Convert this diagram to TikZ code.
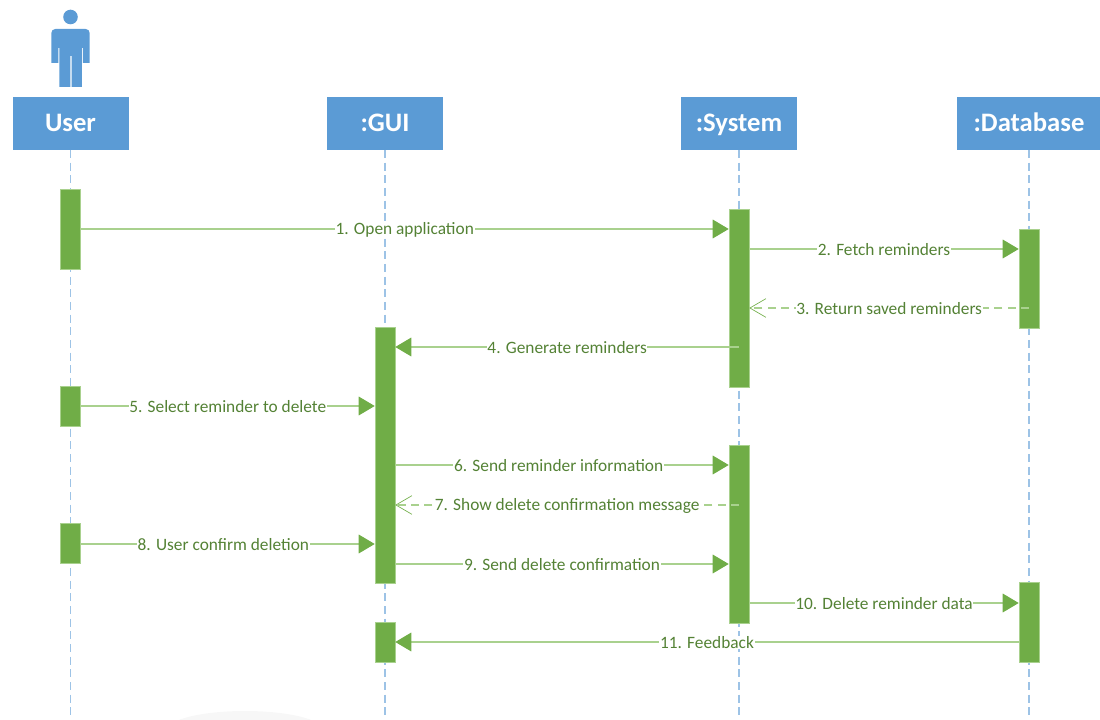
\documentclass[tikz,border=0pt]{standalone}
\usepackage{fontspec}
\setmainfont{Carlito}
\usetikzlibrary{arrows.meta}
\definecolor{headblue}{HTML}{5B9BD5}
\definecolor{lifeblue}{HTML}{9DC3E6}
\definecolor{barRgreen}{HTML}{70AD47}
\definecolor{msgline}{HTML}{A9D18E}
\definecolor{msgtext}{HTML}{548235}
\tikzset{
	header/.style={fill=headblue,draw=white,line width=0.4pt,text=white,font=\fontsize{20}{20}\selectfont\bfseries,minimum height=40.5pt,inner sep=0pt,text height=16pt,text depth=2.5pt},
	bar/.style={fill=barRgreen,draw=msgline,line width=0.4pt,minimum width=15pt,inner sep=0pt},
	lifeline/.style={lifeblue,line width=0.9pt,dash pattern=on 6pt off 3.5pt},
	msg/.style={msgline,line width=0.9pt,-{Triangle[length=12pt,width=14pt,fill=barRgreen,color=barRgreen]}},
	reply/.style={msgline,line width=0.9pt,dash pattern=on 6pt off 4pt,-{Straight Barb[length=12pt,width=14pt,color=barRgreen,line width=0.5pt]}},
	msglabel/.style={fill=white,text=msgtext,font=\fontsize{13}{13}\selectfont,inner xsep=0.5pt,inner ysep=0.5pt,yshift=-0.4pt}
}
\begin{document}
\begin{tikzpicture}[x=0.75pt,y=-0.75pt]
	\useasboundingbox (0,0) rectangle (1100,720);
	\fill[black!3] (245,730) ellipse [x radius=78,y radius=19];
	% headers
	\node[header,minimum width=87.75pt] (user) at (70.5,123) {User};
	\node[header,minimum width=87.75pt] (gui) at (385,123) {:GUI};
	\node[header,minimum width=87.75pt] (system) at (739,123) {:System};
	\node[header,minimum width=108.75pt] (database) at (1029,123) {:Database};
	% lifelines
	\foreach \who/\x in {user/70.5,gui/385,system/739,database/1029}{
		\coordinate (\who end) at (\x,720);
		\draw[lifeline] (\x,150) -- (\who end);
	}
	% actor
	\fill[headblue] (70.5,17) circle (7.3);
	\fill[headblue] (51.3,63) [rounded corners=3] -- (51.3,29) -- (89.7,29) [sharp corners] -- (89.7,63) -- (82.8,63) -- (82.8,48) -- (81.8,48) -- (81.8,87) -- (71.5,87) -- (71.5,56) -- (70.3,56) -- (70.3,87) -- (59.4,87) -- (59.4,48) -- (58.4,48) -- (58.4,63) -- cycle;
	% activation bars
	\node[bar,minimum height=60pt] (userA) at (70.5,229.5) {};
	\node[bar,minimum height=30pt] (userB) at (70.5,406) {};
	\node[bar,minimum height=30pt] (userC) at (70.5,543.5) {};
	\node[bar,minimum height=192pt] (guiA) at (385,455) {};
	\node[bar,minimum height=30pt] (guiB) at (385,642) {};
	\node[bar,minimum height=133.5pt] (systemA) at (739,298) {};
	\node[bar,minimum height=133.5pt] (systemB) at (739,534) {};
	\node[bar,minimum height=74pt] (databaseA) at (1029,278.5) {};
	\node[bar,minimum height=60pt] (databaseB) at (1029,622) {};
	% messages
	\draw[msg] (userA.east |- 0,229) -- node[msglabel] {1. Open application} (systemA.west |- 0,229);
	\draw[msg] (systemA.east |- 0,249) -- node[msglabel] {2. Fetch reminders} (databaseA.west |- 0,249);
	\draw[reply] (databaseA.center |- 0,308) -- node[msglabel] {3. Return saved reminders} (systemA.east |- 0,308);
	\draw[msg] (systemA.center |- 0,347) -- node[msglabel] {4. Generate reminders} (guiA.east |- 0,347);
	\draw[msg] (userB.east |- 0,406) -- node[msglabel] {5. Select reminder to delete} (guiA.west |- 0,406);
	\draw[msg] (guiA.east |- 0,465) -- node[msglabel,pos=0.49] {6. Send reminder information} (systemB.west |- 0,465);
	\draw[reply] (systemB.center |- 0,505) -- node[msglabel] {7. Show delete confirmation message} (guiA.east |- 0,505);
	\draw[msg] (userC.east |- 0,544) -- node[msglabel,pos=0.485] {8. User confirm deletion} (guiA.west |- 0,544);
	\draw[msg] (guiA.east |- 0,564) -- node[msglabel] {9. Send delete confirmation} (systemB.west |- 0,564);
	\draw[msg] (systemB.east |- 0,603) -- node[msglabel] {10. Delete reminder data} (databaseB.west |- 0,603);
	\draw[msg] (databaseB.west |- 0,642) -- node[msglabel] {11. Feedback} (guiB.east |- 0,642);
\end{tikzpicture}
\end{document}
